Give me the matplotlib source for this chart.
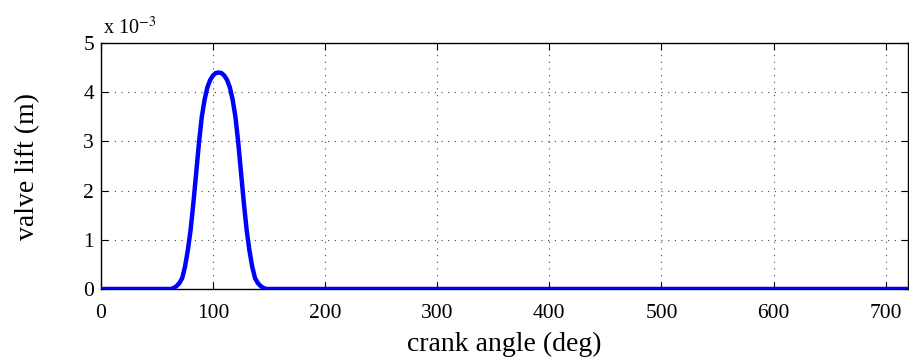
import numpy as np
import matplotlib.pyplot as plt
from matplotlib.ticker import FuncFormatter

# valve lift profile over one engine cycle (lift in mm, converted to m below)
crank_angle = [0, 62.5, 65, 67.5, 70, 72.5, 75, 77.5, 80, 82.5, 85, 87.5,
               90, 92.5, 95, 97.5, 100, 102.5, 105, 107.5, 110, 112.5, 115,
               117.5, 120, 122.5, 125, 127.5, 130, 132.5, 135, 137.5, 140,
               142.5, 145, 147.5, 720]
lift_mm = [0, 0, 0.02, 0.06, 0.12, 0.22, 0.45, 0.78, 1.2, 1.75, 2.36, 2.98,
           3.5, 3.85, 4.1, 4.25, 4.34, 4.39, 4.4, 4.39, 4.34, 4.25, 4.1,
           3.85, 3.5, 2.98, 2.36, 1.75, 1.2, 0.78, 0.45, 0.22, 0.12,
           0.06, 0.02, 0, 0]
lift = np.array(lift_mm) * 1e-3

x_ticks = [0, 100, 200, 300, 400, 500, 600, 700]
y_ticks = np.array([0, 1, 2, 3, 4, 5]) * 1e-3

plt.rcParams["font.family"] = ["Liberation Serif", "DejaVu Serif"]
plt.rcParams["mathtext.fontset"] = "stix"

fig = plt.figure(figsize=(9.09, 3.57), dpi=100)
ax = fig.add_axes([0.111, 0.1905, 0.888, 0.689])

ax.plot(crank_angle, lift, color="#0000ff", linewidth=3.2, solid_capstyle="round",
        solid_joinstyle="round", zorder=3)

ax.set_xlim(0, 720)
ax.set_ylim(0, 5e-3)
ax.set_xticks(x_ticks)
ax.set_yticks(y_ticks)
ax.yaxis.set_major_formatter(FuncFormatter(lambda v, p: f"{v * 1e3:g}"))
ax.tick_params(direction="in", length=5, width=0.8, top=True, right=True,
               labelsize=15.5, colors="black")
ax.tick_params(axis="x", pad=11)
ax.tick_params(axis="y", pad=5)
ax.grid(True, linestyle=(0, (1, 5)), color="#444444", linewidth=0.8)
for s in ax.spines.values():
    s.set_linewidth(1.0)

ax.set_xlabel("crank angle (deg)", fontsize=20, labelpad=6)
ax.set_ylabel("valve lift (m)", fontsize=20, labelpad=31)
ax.text(0.002, 1.037, r"x 10$^{-3}$", transform=ax.transAxes, fontsize=14.5,
        ha="left", va="baseline")

fig.savefig("out.png", dpi=100)
